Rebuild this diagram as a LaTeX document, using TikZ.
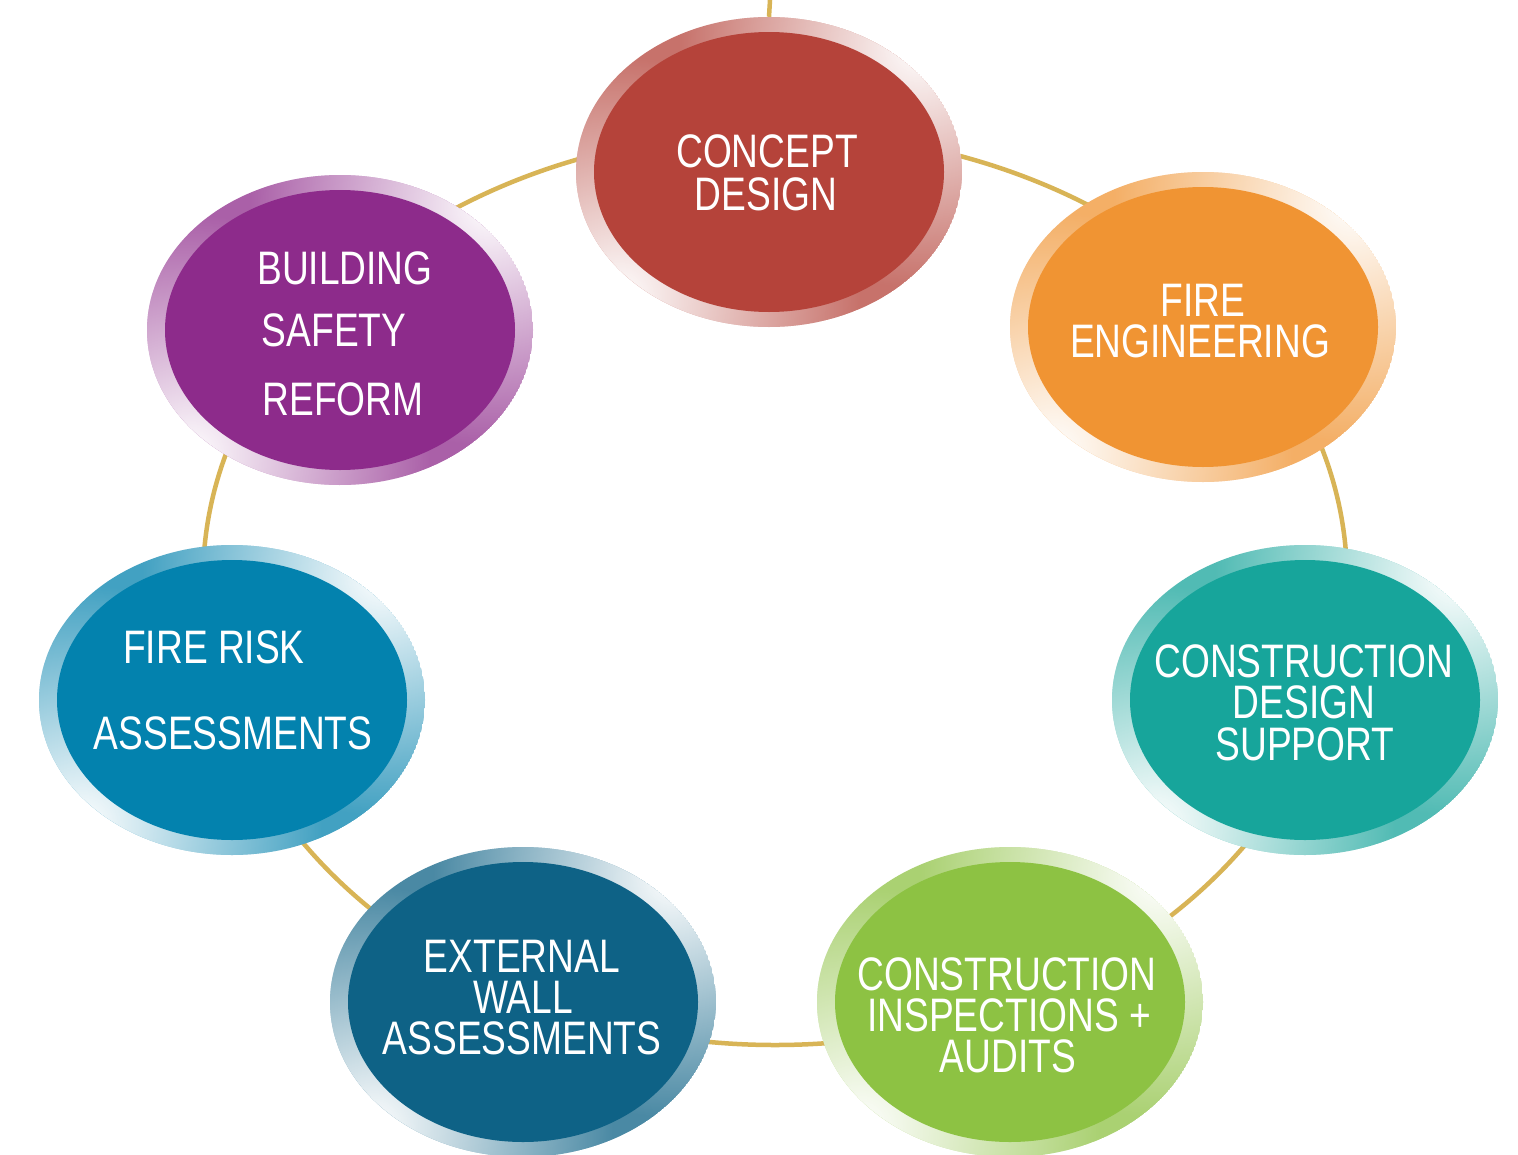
\documentclass[tikz,border=0pt]{standalone}
\usepackage{fontspec}
\setmainfont[FakeStretch=0.79]{Liberation Sans}
\usetikzlibrary{shapes.geometric,fadings}
\definecolor{cred}{RGB}{181,67,58}
\definecolor{corange}{RGB}{240,148,51}
\definecolor{cteal}{RGB}{23,165,155}
\definecolor{cgreen}{RGB}{141,194,67}
\definecolor{cnavy}{RGB}{14,98,134}
\definecolor{cblue}{RGB}{3,130,174}
\definecolor{cpurple}{RGB}{141,43,139}
\definecolor{cgold}{RGB}{216,180,86}
\tikzfading[name=glowfade, inner color=transparent!0, outer color=transparent!100]
\tikzset{
  ring/.style={draw=cgold, line width=4.5pt},
  outerbub/.style={ellipse, minimum width=386pt, minimum height=310pt, inner sep=0pt, draw=none},
  lbl/.style={text=white, inner sep=0pt, anchor=base, text height=34pt, text depth=0pt,
    font=\fontsize{47}{47}\selectfont}
}
% name, x, y, colour
\newcommand\mybubble[4]{%
  \begin{scope}
    \clip (#2,#3) ellipse [x radius=193pt, y radius=155pt];
    \fill[#4!75!white] (#2,#3) ellipse [x radius=193pt, y radius=155pt];
    \fill[white, path fading=glowfade] (#2+150,#3-125) circle (240pt);
    \fill[white, path fading=glowfade] (#2-150,#3+125) circle (240pt);
  \end{scope}
  \fill[#4] (#2,#3) ellipse [x radius=175pt, y radius=140pt];
  \node[outerbub] (#1) at (#2,#3) {};
}
\begin{document}
\begin{tikzpicture}[x=1pt, y=-1pt]
\fill[white] (0,0) rectangle (1518,1154);
\useasboundingbox (0,0) rectangle (1518,1154);

% gold ring behind the bubbles
\coordinate (ringc) at (775,580);
\draw[ring] (ringc) ++(-572pt,0pt)
  arc[start angle=180, end angle=0, x radius=572pt, y radius=448pt]
  arc[start angle=0, end angle=-180, x radius=572pt, y radius=465pt];

% bubbles
\mybubble{concept}{769}{172}{cred}
\mybubble{fireeng}{1203}{327}{corange}
\mybubble{cds}{1305}{700}{cteal}
\mybubble{cia}{1010}{1002}{cgreen}
\mybubble{ewa}{523}{1002}{cnavy}
\mybubble{fra}{232}{700}{cblue}
\mybubble{bsr}{340}{330}{cpurple}

% line at the top
\coordinate (topend) at (770,0);
\draw[ring] (topend) -- (concept.north);

% labels
\node[lbl] (t1a) at (767,167) {CONCEPT};
\node[lbl] (t1b) at (766,210) {DESIGN};

\node[lbl] (t2a) at (1203,316) {FIRE};
\node[lbl] (t2b) at (1200,357) {ENGINEERING};

\node[lbl] (t3a) at (1304,677) {CONSTRUCTION};
\node[lbl] (t3b) at (1304,718) {DESIGN};
\node[lbl] (t3c) at (1305,760) {SUPPORT};

\node[lbl] (t4a) at (1007,990) {CONSTRUCTION};
\node[lbl] (t4b) at (1009,1031) {INSPECTIONS +};
\node[lbl] (t4c) at (1008,1072) {AUDITS};

\node[lbl] (t5a) at (522,972) {EXTERNAL};
\node[lbl] (t5b) at (523,1013) {WALL};
\node[lbl] (t5c) at (522,1054) {ASSESSMENTS};

\node[lbl] (t6a) at (214,663) {FIRE RISK};
\node[lbl] (t6b) at (233,749) {ASSESSMENTS};

\node[lbl] (t7a) at (345,284) {BUILDING};
\node[lbl] (t7b) at (334,346) {SAFETY};
\node[lbl] (t7c) at (343,415) {REFORM};
\end{tikzpicture}
\end{document}
